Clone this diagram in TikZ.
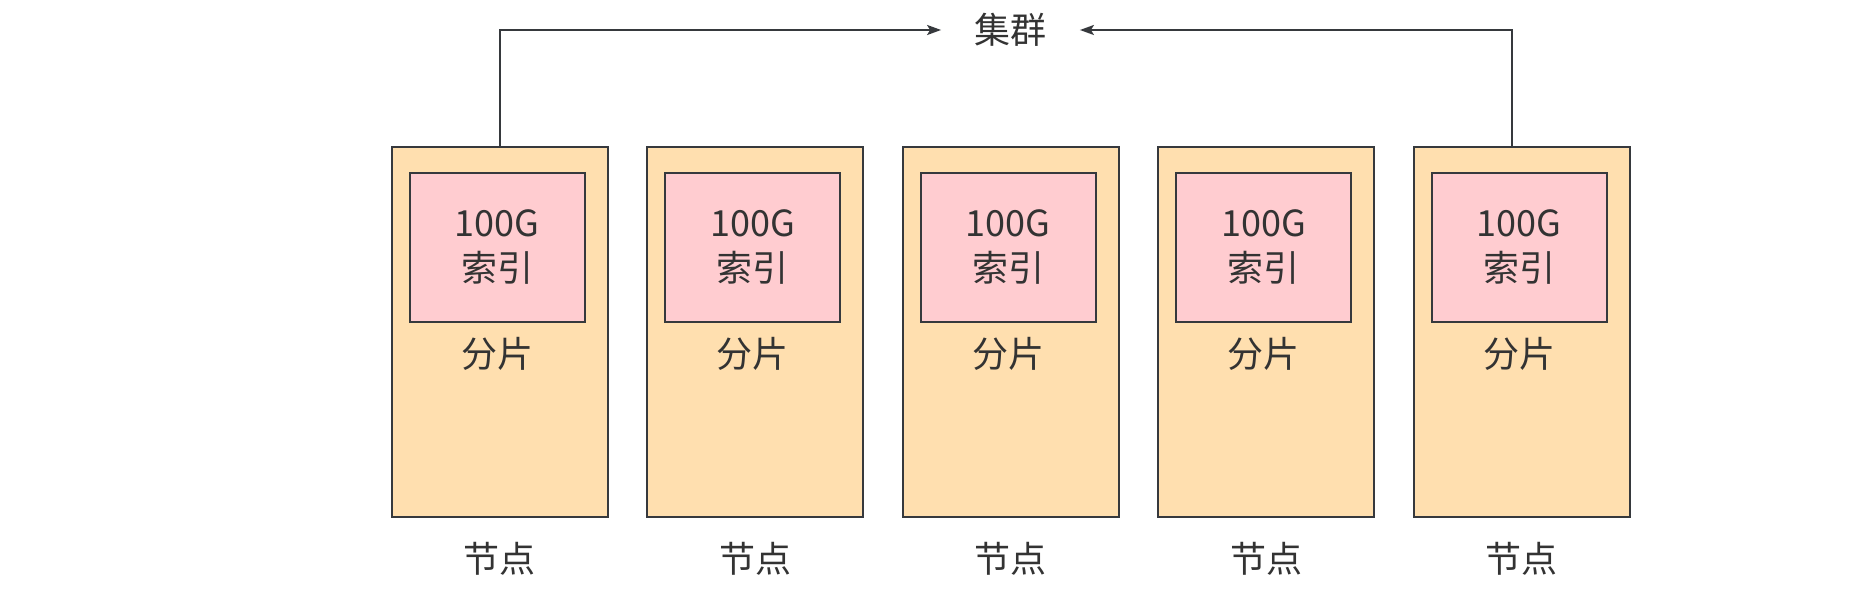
\documentclass[tikz,border=0pt]{standalone}
\usepackage{fontspec}
\newfontfamily\cjk{Noto Sans CJK SC}
\usetikzlibrary{positioning, arrows.meta}
\definecolor{nodefill}{HTML}{FFDFAF}
\definecolor{shardfill}{HTML}{FFCCD0}
\definecolor{linegray}{HTML}{36393D}
\definecolor{textgray}{HTML}{333333}
\tikzstyle{machine} = [rectangle, minimum width=108pt, minimum height=185pt, draw=linegray, line width=1pt, fill=nodefill]
\tikzstyle{shard} = [rectangle, minimum width=87.5pt, minimum height=74.5pt, text centered, align=center, draw=linegray, line width=1pt, fill=shardfill]
\tikzstyle{arrow} = [draw=linegray, line width=1pt, -{Stealth[length=7pt,width=5pt,inset=1.5pt]}]

\begin{document}
\begin{tikzpicture}[node distance=18.75pt, font=\cjk\fontsize{18pt}{22.5pt}\selectfont, text=textgray]
    \useasboundingbox (0,0) rectangle (936pt,300pt);
    \node (node1) [machine] at (249.75pt,134pt) {};
    \node (node2) [machine, right=of node1] {};
    \node (node3) [machine, right=of node2] {};
    \node (node4) [machine, right=of node3] {};
    \node (node5) [machine, right=of node4] {};
    \node (shard1) [shard, below=13pt of node1.north, xshift=-1.25pt] {100G\\索引};
    \node (shard2) [shard, below=13pt of node2.north, xshift=-1.25pt] {100G\\索引};
    \node (shard3) [shard, below=13pt of node3.north, xshift=-1.25pt] {100G\\索引};
    \node (shard4) [shard, below=13pt of node4.north, xshift=-1.25pt] {100G\\索引};
    \node (shard5) [shard, below=13pt of node5.north, xshift=-1.25pt] {100G\\索引};
    \node (piece1) at ([yshift=-15.5pt]shard1.south) {分片};
    \node (piece2) at ([yshift=-15.5pt]shard2.south) {分片};
    \node (piece3) at ([yshift=-15.5pt]shard3.south) {分片};
    \node (piece4) at ([yshift=-15.5pt]shard4.south) {分片};
    \node (piece5) at ([yshift=-15.5pt]shard5.south) {分片};
    \node (host1) at ([yshift=-20.5pt]node1.south) {节点};
    \node (host2) at ([yshift=-20.5pt]node2.south) {节点};
    \node (host3) at ([yshift=-20.5pt]node3.south) {节点};
    \node (host4) at ([yshift=-20.5pt]node4.south) {节点};
    \node (host5) at ([yshift=-20.5pt]node5.south) {节点};
    \node (cluster) [inner xsep=16.5pt] at ([yshift=58pt]node3.north) {集群};
    \draw[arrow] (node1.north) |- (cluster.west);
    \draw[arrow] ([xshift=-4.75pt]node5.north) |- (cluster.east);
\end{tikzpicture}
\end{document}
